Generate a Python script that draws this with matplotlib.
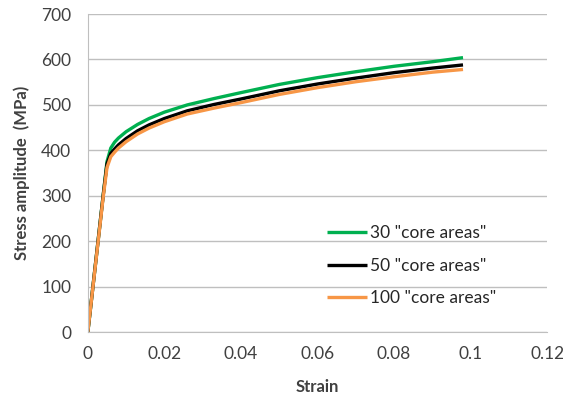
import matplotlib.pyplot as plt

strain = [0, 0.002, 0.004, 0.005, 0.006, 0.007, 0.008, 0.01, 0.013, 0.016,
          0.02, 0.026, 0.033, 0.04, 0.05, 0.06, 0.07, 0.08, 0.09, 0.098]
stress_30 = [0, 150, 300, 375, 405, 418, 427, 441, 457, 470,
             484, 500, 514, 527, 545, 560, 573, 585, 595, 604]
stress_50 = [0, 150, 300, 370, 393, 403, 412, 426, 443, 456,
             470, 487, 501, 513, 531, 546, 559, 571, 581, 588]
stress_100 = [0, 148, 296, 362, 386, 396, 405, 419, 436, 449,
              463, 480, 493, 505, 523, 538, 551, 562, 572, 578]

labels = ['30 "core areas"', '50 "core areas"', '100 "core areas"']
colors = ['#00b050', '#000000', '#f79646']

plt.rcParams['font.family'] = ['Lato', 'DejaVu Sans']

fig = plt.figure(figsize=(5.63, 4.01), dpi=100)
ax = fig.add_axes([0.156, 0.172, 0.816, 0.793])

for ys, lab, c in zip([stress_30, stress_50, stress_100], labels, colors):
    ax.plot(strain, ys, color=c, lw=2.4, label=lab, solid_capstyle='butt')

ax.set_xlim(0, 0.12)
ax.set_ylim(0, 700)
ax.set_xticks([0, 0.02, 0.04, 0.06, 0.08, 0.1, 0.12])
ax.set_xticklabels(['0', '0.02', '0.04', '0.06', '0.08', '0.1', '0.12'])
ax.set_yticks(range(0, 701, 100))
ax.grid(axis='y', color='#bfbfbf', lw=1)
ax.set_axisbelow(True)
for s in ['top', 'right']:
    ax.spines[s].set_visible(False)
for s in ['left', 'bottom']:
    ax.spines[s].set_color('#bfbfbf')
ax.tick_params(length=0, labelsize=12.5, colors='#404040')
ax.tick_params(axis='x', pad=10)
ax.tick_params(axis='y', pad=12)

ax.set_xlabel('Strain', fontsize=12, fontweight='bold', color='#404040', labelpad=12)
ax.set_ylabel('Stress amplitude  (MPa)', fontsize=12, fontweight='bold', color='#404040', labelpad=8)

ax.legend(loc='center left', bbox_to_anchor=(0.487, 0.208), frameon=False,
          fontsize=12.5, handlelength=2.3, handletextpad=0.15, labelspacing=0.95,
          labelcolor='#262626')

fig.savefig('out.png', dpi=100)
